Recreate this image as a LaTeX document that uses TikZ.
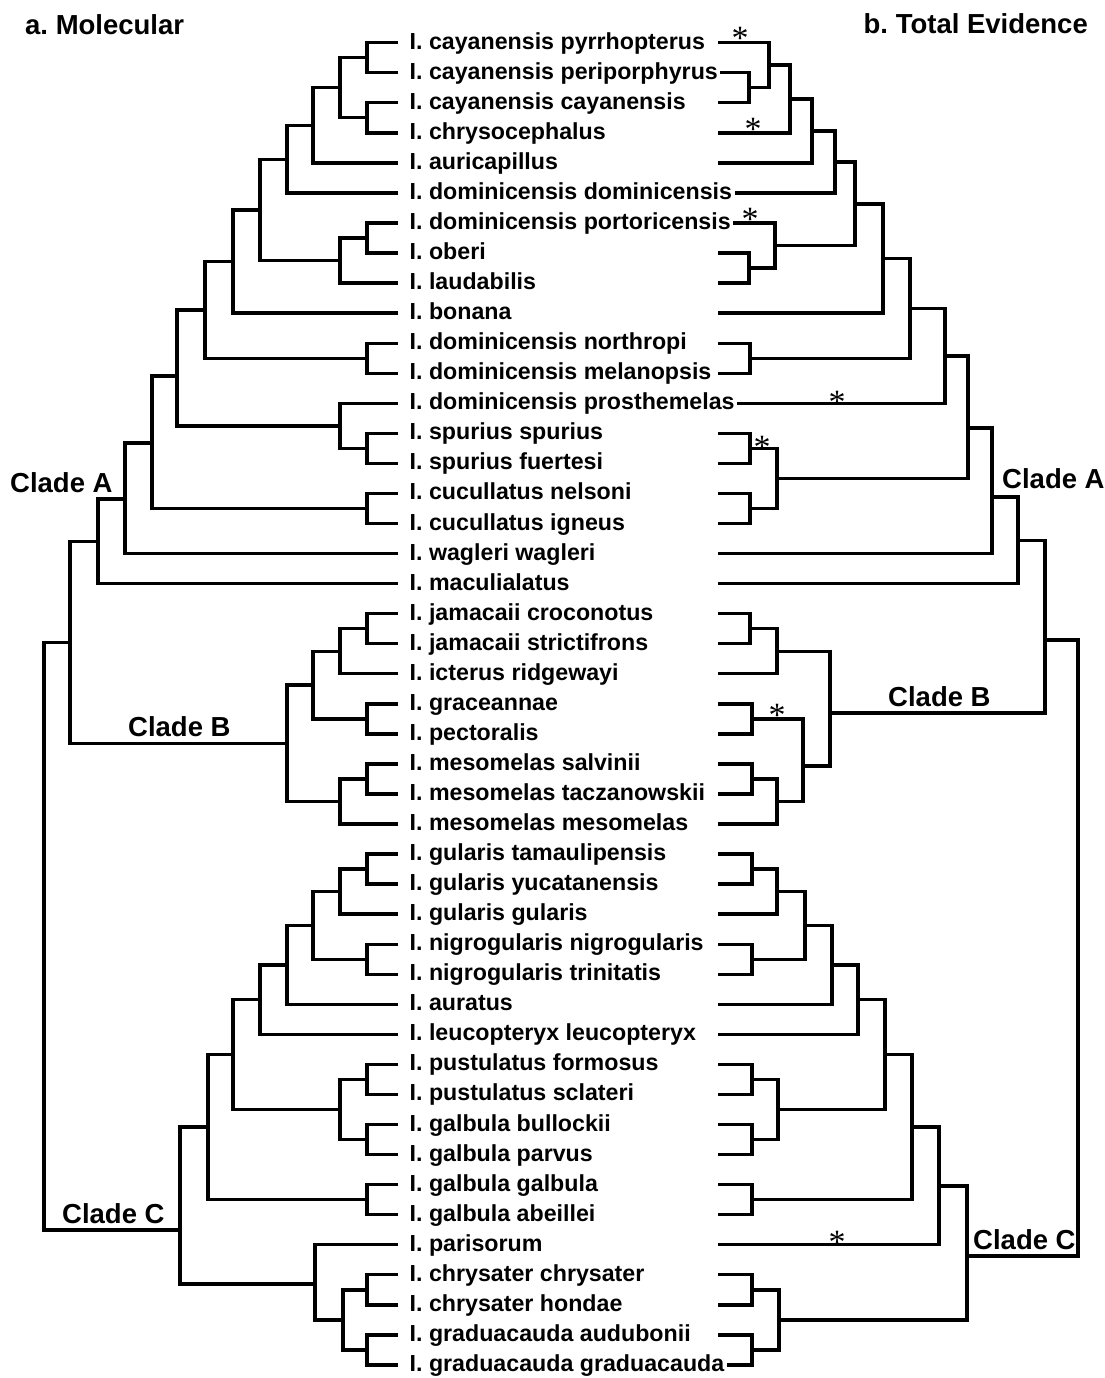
\documentclass[tikz,border=0pt]{standalone}
\usepackage{fontspec}
\setmainfont{Liberation Sans}
\newfontfamily\astfont{Liberation Serif}
\frenchspacing
\begin{document}
\begin{tikzpicture}[x=1pt,y=-1pt,
  br/.style={line width=3.4pt},
  taxon/.style={anchor=base west, inner xsep=2.5pt, inner ysep=1pt, fill=white, font=\fontsize{23.2}{26}\selectfont\bfseries},
  cladelab/.style={anchor=base west, inner sep=0pt, font=\fontsize{27.5}{30}\selectfont\bfseries},
  ast/.style={anchor=base, inner sep=0pt, font=\astfont\fontsize{34}{36}\selectfont}]
\useasboundingbox (0,0) rectangle (1104,1378);
\foreach \i in {1,...,45}{
  \coordinate (lt\i) at (398,{42.7+(\i-1)*30.05});
  \coordinate (rt\i) at (718,{42.7+(\i-1)*30.05});
}
\newcommand\tedge[2]{\foreach \c in {#2}{\draw[br] (#1) |- (\c);}}
% ---------- left tree (molecular) ----------
\coordinate (a12) at (367,57.7);
\coordinate (a34) at (367,117.8);
\coordinate (a14) at (340,87.8);
\coordinate (a15) at (313,125.4);
\coordinate (a16) at (287,159.2);
\coordinate (a78) at (367,238);
\coordinate (a79) at (340,260.6);
\coordinate (a19) at (260,209.9);
\coordinate (a110) at (233,261.5);
\coordinate (a1112) at (367,358.2);
\coordinate (a112) at (205,309.9);
\coordinate (a1415) at (367,448.4);
\coordinate (a1315) at (340,425.9);
\coordinate (a115) at (177,376);
\coordinate (a1617) at (367,508.5);
\coordinate (a117) at (152,443);
\coordinate (a118) at (125,499);
\coordinate (aA) at (98,541.5);
\coordinate (a2021) at (367,628.7);
\coordinate (a2022) at (340,651.2);
\coordinate (a2324) at (367,718.8);
\coordinate (a2024) at (313,685);
\coordinate (a2526) at (367,778.9);
\coordinate (a2527) at (340,801.5);
\coordinate (aB) at (287,743.2);
\coordinate (aAB) at (70,642.4);
\coordinate (a2829) at (367,869.1);
\coordinate (a2830) at (340,891.6);
\coordinate (a3132) at (367,959.2);
\coordinate (a2832) at (313,925.4);
\coordinate (a2833) at (287,964.9);
\coordinate (a2834) at (260,999.6);
\coordinate (a3536) at (367,1079.4);
\coordinate (a3738) at (367,1139.5);
\coordinate (a3538) at (340,1109.5);
\coordinate (a2838) at (233,1054.6);
\coordinate (a3940) at (367,1199.6);
\coordinate (a2840) at (208,1127.1);
\coordinate (a4243) at (367,1289.8);
\coordinate (a4445) at (367,1349.9);
\coordinate (a4245) at (343,1319.8);
\coordinate (a4145) at (315,1284);
\coordinate (aC) at (180,1230);
\coordinate (aroot) at (44,936);
\tedge{a12}{lt1,lt2}
\tedge{a34}{lt3,lt4}
\tedge{a14}{a12,a34}
\tedge{a15}{a14,lt5}
\tedge{a16}{a15,lt6}
\tedge{a78}{lt7,lt8}
\tedge{a79}{a78,lt9}
\tedge{a19}{a16,a79}
\tedge{a110}{a19,lt10}
\tedge{a1112}{lt11,lt12}
\tedge{a112}{a110,a1112}
\tedge{a1415}{lt14,lt15}
\tedge{a1315}{lt13,a1415}
\tedge{a115}{a112,a1315}
\tedge{a1617}{lt16,lt17}
\tedge{a117}{a115,a1617}
\tedge{a118}{a117,lt18}
\tedge{aA}{a118,lt19}
\tedge{a2021}{lt20,lt21}
\tedge{a2022}{a2021,lt22}
\tedge{a2324}{lt23,lt24}
\tedge{a2024}{a2022,a2324}
\tedge{a2526}{lt25,lt26}
\tedge{a2527}{a2526,lt27}
\tedge{aB}{a2024,a2527}
\tedge{aAB}{aA,aB}
\tedge{a2829}{lt28,lt29}
\tedge{a2830}{a2829,lt30}
\tedge{a3132}{lt31,lt32}
\tedge{a2832}{a2830,a3132}
\tedge{a2833}{a2832,lt33}
\tedge{a2834}{a2833,lt34}
\tedge{a3536}{lt35,lt36}
\tedge{a3738}{lt37,lt38}
\tedge{a3538}{a3536,a3738}
\tedge{a2838}{a2834,a3538}
\tedge{a3940}{lt39,lt40}
\tedge{a2840}{a2838,a3940}
\tedge{a4243}{lt42,lt43}
\tedge{a4445}{lt44,lt45}
\tedge{a4245}{a4243,a4445}
\tedge{a4145}{lt41,a4245}
\tedge{aC}{a2840,a4145}
\tedge{aroot}{aAB,aC}
% ---------- right tree (total evidence) ----------
\coordinate (b23) at (749,87.8);
\coordinate (b13) at (769,65.2);
\coordinate (b14) at (790,99);
\coordinate (b15) at (812,131);
\coordinate (b16) at (835,162);
\coordinate (b89) at (749,268.1);
\coordinate (b79) at (775,245.5);
\coordinate (b19) at (855,203.8);
\coordinate (b110) at (883,258.5);
\coordinate (b1112) at (750,358.2);
\coordinate (b112) at (910,308.3);
\coordinate (b113) at (945,355.8);
\coordinate (b1415) at (750,448.4);
\coordinate (b1617) at (750,508.5);
\coordinate (b1417) at (777,478.4);
\coordinate (b117) at (968,428);
\coordinate (b118) at (992,497);
\coordinate (bA) at (1018,540.3);
\coordinate (b2021) at (750,628.7);
\coordinate (b2022) at (777,651.2);
\coordinate (b2324) at (752,718.8);
\coordinate (b2526) at (752,778.9);
\coordinate (b2527) at (777,801.5);
\coordinate (b2327) at (803,766);
\coordinate (bB) at (830,713);
\coordinate (bAB) at (1045,640);
\coordinate (b2829) at (752,869.1);
\coordinate (b2830) at (777,891.6);
\coordinate (b3132) at (752,959.2);
\coordinate (b2832) at (805,925.4);
\coordinate (b2833) at (832,964.9);
\coordinate (b2834) at (858,999.6);
\coordinate (b3536) at (752,1079.4);
\coordinate (b3738) at (752,1139.5);
\coordinate (b3538) at (778,1109.5);
\coordinate (b2838) at (885,1054.6);
\coordinate (b3940) at (752,1199.6);
\coordinate (b2840) at (912,1127.1);
\coordinate (b2841) at (939,1185.9);
\coordinate (b4243) at (752,1289.8);
\coordinate (b4445) at (752,1349.9);
\coordinate (b4245) at (779,1319.8);
\coordinate (bC) at (967,1256);
\coordinate (broot) at (1078,948);
\tedge{b23}{rt2,rt3}
\tedge{b13}{rt1,b23}
\tedge{b14}{b13,rt4}
\tedge{b15}{b14,rt5}
\tedge{b16}{b15,rt6}
\tedge{b89}{rt8,rt9}
\tedge{b79}{rt7,b89}
\tedge{b19}{b16,b79}
\tedge{b110}{b19,rt10}
\tedge{b1112}{rt11,rt12}
\tedge{b112}{b110,b1112}
\tedge{b113}{b112,rt13}
\tedge{b1415}{rt14,rt15}
\tedge{b1617}{rt16,rt17}
\tedge{b1417}{b1415,b1617}
\tedge{b117}{b113,b1417}
\tedge{b118}{b117,rt18}
\tedge{bA}{b118,rt19}
\tedge{b2021}{rt20,rt21}
\tedge{b2022}{b2021,rt22}
\tedge{b2324}{rt23,rt24}
\tedge{b2526}{rt25,rt26}
\tedge{b2527}{b2526,rt27}
\tedge{b2327}{b2324,b2527}
\tedge{bB}{b2022,b2327}
\tedge{bAB}{bA,bB}
\tedge{b2829}{rt28,rt29}
\tedge{b2830}{b2829,rt30}
\tedge{b3132}{rt31,rt32}
\tedge{b2832}{b2830,b3132}
\tedge{b2833}{b2832,rt33}
\tedge{b2834}{b2833,rt34}
\tedge{b3536}{rt35,rt36}
\tedge{b3738}{rt37,rt38}
\tedge{b3538}{b3536,b3738}
\tedge{b2838}{b2834,b3538}
\tedge{b3940}{rt39,rt40}
\tedge{b2840}{b2838,b3940}
\tedge{b2841}{b2840,rt41}
\tedge{b4243}{rt42,rt43}
\tedge{b4445}{rt44,rt45}
\tedge{b4245}{b4243,b4445}
\tedge{bC}{b2841,b4245}
\tedge{broot}{bAB,bC}
% ---------- taxon labels ----------
\foreach \i/\t in {
 1/I. cayanensis pyrrhopterus,
 2/I. cayanensis periporphyrus,
 3/I. cayanensis cayanensis,
 4/I. chrysocephalus,
 5/I. auricapillus,
 6/I. dominicensis dominicensis,
 7/I. dominicensis portoricensis,
 8/I. oberi,
 9/I. laudabilis,
 10/I. bonana,
 11/I. dominicensis northropi,
 12/I. dominicensis melanopsis,
 13/I. dominicensis prosthemelas,
 14/I. spurius spurius,
 15/I. spurius fuertesi,
 16/I. cucullatus nelsoni,
 17/I. cucullatus igneus,
 18/I. wagleri wagleri,
 19/I. maculialatus,
 20/I. jamacaii croconotus,
 21/I. jamacaii strictifrons,
 22/I. icterus ridgewayi,
 23/I. graceannae,
 24/I. pectoralis,
 25/I. mesomelas salvinii,
 26/I. mesomelas taczanowskii,
 27/I. mesomelas mesomelas,
 28/I. gularis tamaulipensis,
 29/I. gularis yucatanensis,
 30/I. gularis gularis,
 31/I. nigrogularis nigrogularis,
 32/I. nigrogularis trinitatis,
 33/I. auratus,
 34/I. leucopteryx leucopteryx,
 35/I. pustulatus formosus,
 36/I. pustulatus sclateri,
 37/I. galbula bullockii,
 38/I. galbula parvus,
 39/I. galbula galbula,
 40/I. galbula abeillei,
 41/I. parisorum,
 42/I. chrysater chrysater,
 43/I. chrysater hondae,
 44/I. graduacauda audubonii,
 45/I. graduacauda graduacauda}{
  \node[taxon] (lab\i) at (407,{42.7+(\i-1)*30.05+6.5}) {\t};
}
% ---------- headings and clade labels ----------
\node[cladelab] (hA) at (25,35) {a. Molecular};
\node[cladelab, anchor=base east] (hB) at (1088,34) {b. Total Evidence};
\node[cladelab] (cAL) at (10,492) {Clade A};
\node[cladelab] (cBL) at (128,736) {Clade B};
\node[cladelab] (cCL) at (62,1223) {Clade C};
\node[cladelab] (cAR) at (1002,488) {Clade A};
\node[cladelab] (cBR) at (888,706) {Clade B};
\node[cladelab] (cCR) at (973,1249) {Clade C};
% ---------- asterisks ----------
\node[ast] (s1) at (740,50) {*};
\node[ast] (s2) at (753,141) {*};
\node[ast] (s3) at (750,230) {*};
\node[ast] (s4) at (837,413) {*};
\node[ast] (s5) at (762,458) {*};
\node[ast] (s6) at (777,726) {*};
\node[ast] (s7) at (837,1253) {*};
\end{tikzpicture}
\end{document}
